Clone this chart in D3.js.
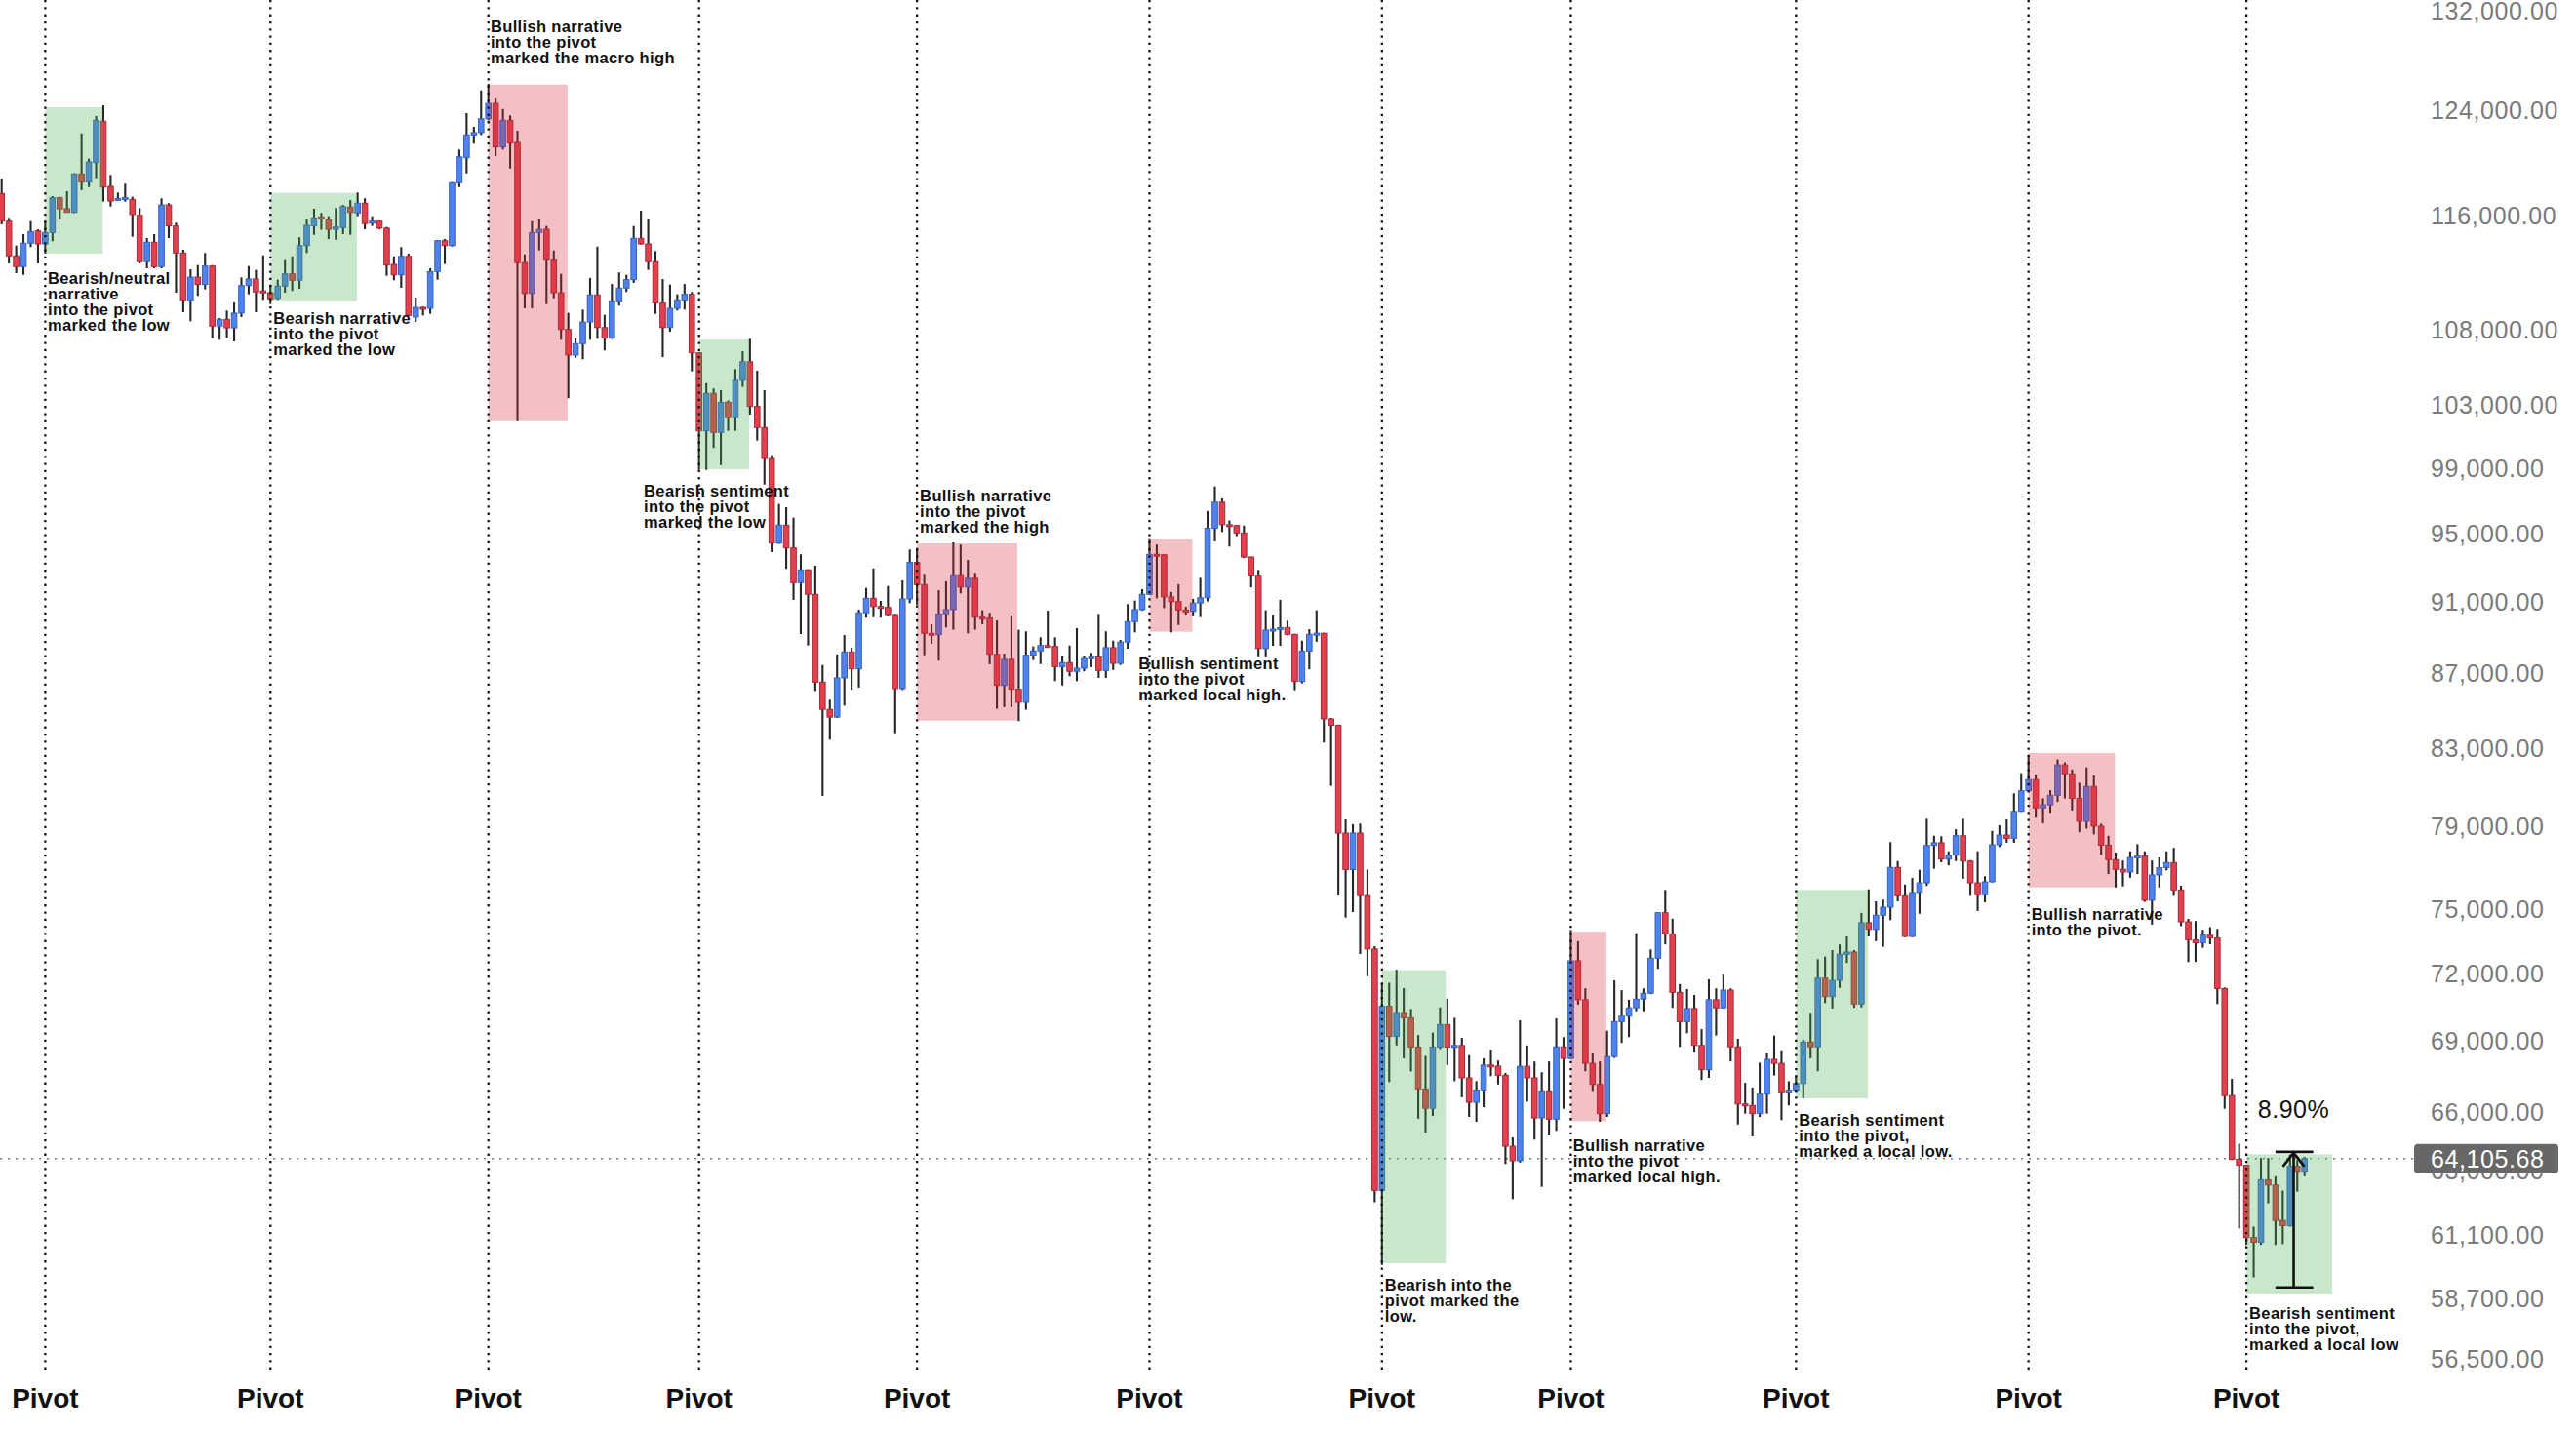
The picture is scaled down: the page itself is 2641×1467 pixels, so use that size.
<!DOCTYPE html>
<html>
<head>
<meta charset="utf-8">
<script src="https://cdn.jsdelivr.net/npm/d3@7"></script>
<style>
  html, body { margin: 0; padding: 0; background: #ffffff; }
  svg { display: block; }
</style>
</head>
<body>
<div id="chart"></div>
<script>
// daily candles, index 0 .. 317 (open / high / low / close)
const opens = [117700,115660,113160,112400,114070,114950,114020,114840,117380,116570,116300,119150,118540,120000,123170,118220,117250,117330,117260,116090,112750,114140,112400,116850,115310,113370,110010,111660,111140,112440,108270,108730,108150,109160,111070,111530,110690,110570,110120,111030,111890,111440,113900,115310,115970,115780,115070,115190,116690,116260,116980,115550,115660,115150,112560,111820,113130,108890,109560,109490,112050,114250,113900,118490,120370,122110,122290,123360,124560,121190,123240,121540,112680,110520,114840,115070,112860,110570,108040,106310,107080,108550,110420,108170,107450,109940,110890,111480,114420,114020,112750,109850,108170,109490,110010,110460,106460,101360,103780,101260,103200,102200,104630,105870,102930,101570,99610,94450,95520,94160,92120,92860,91450,86530,85060,84650,86760,88190,87260,90390,91220,90750,90700,90290,86180,91180,93300,92010,89230,89150,90330,90570,92580,91870,92370,90140,90100,88060,86350,87780,86140,85440,88010,88250,88550,88500,87380,87600,87120,87290,87830,87920,87170,88430,87560,88740,89890,90570,91450,93780,93750,91300,91030,90550,90470,90950,91250,95330,96910,95550,95500,95050,93620,92550,88380,89410,89460,89550,89170,86570,88240,89170,89230,84550,84210,78690,76900,78690,75650,73150,62840,70560,69230,70280,70050,68770,66980,66170,68770,69750,68770,68840,67450,66420,66940,68000,67950,67560,64610,64020,67940,67450,65770,66900,65720,68780,68280,72610,70850,68070,67170,65950,68360,69880,70120,70490,70880,71140,72730,74840,73850,71180,69880,70460,68840,67800,70850,70490,71280,68780,66350,66290,65950,66760,68240,68070,66860,66930,67210,68990,68780,71820,70990,71720,72910,73010,70660,74370,74060,74720,75100,77000,75640,73730,75800,76260,78080,78210,77410,77600,78560,77310,76260,75690,76310,78110,78590,78430,79770,80810,81380,79940,80100,80580,82140,81680,80420,79270,81030,79030,78090,77380,76910,76780,77490,77560,75430,76640,76990,77240,75920,74410,73570,73440,73790,73660,71350,66700,64080,63840,61000,60820,63260,63050,61660,61460,63800,63600];
const highs = [118790,115900,113900,114720,115660,115070,115660,117500,117450,117860,119200,122230,120300,123570,124400,119080,117770,118420,117450,116620,114440,114720,117340,116980,115550,113600,112210,112510,113370,112510,108820,109340,109890,111640,112440,112170,113200,111140,111480,112860,113130,114490,115850,116570,116260,116020,116620,116850,117210,117770,117340,116020,115700,115240,113130,113790,113320,110230,109610,112280,114300,114370,118540,120990,123800,122740,125580,126100,125020,124120,123620,122440,113270,115660,115850,115310,113550,111890,109180,107450,109400,111590,113830,109040,111180,111990,111820,115310,116420,115850,113510,111530,111140,110460,111180,110620,106510,104450,104100,103990,103310,105380,106570,107410,105270,103990,99810,96800,96600,95970,93780,92900,93110,87470,85580,88060,89130,88430,90570,91820,92950,91070,91930,90330,92250,94070,94160,92630,89740,91690,92200,94490,94360,93450,92690,90530,90390,89960,88100,90250,89430,89340,88500,89010,90510,89010,87950,88550,89520,87980,88140,90330,89340,88820,88860,90890,91090,91750,94680,94360,93800,91590,92030,90740,91190,92400,96370,97870,97130,95800,95520,95490,93650,92860,90530,90290,91130,89940,89200,88820,89460,90530,89260,84600,84250,79370,79130,79160,76900,73280,71610,71610,72200,71370,70440,69290,68390,69400,70510,70900,70050,69170,68420,67310,68280,68660,68190,67660,64970,69940,68840,68150,67690,68150,70020,69200,74030,73510,71360,68490,68150,69480,71720,71280,70850,73880,71360,73130,74870,75920,74560,71550,71330,71060,69550,71770,71360,71990,71360,69130,67240,67040,68100,68520,69270,68630,67310,67550,69090,70270,72680,72800,73100,73360,73730,73100,74830,75950,75380,75460,78240,77310,76180,76500,76890,79400,78560,78530,77790,78880,79400,77360,77790,76580,78800,79080,79370,80680,81710,82600,81640,80430,80840,82420,82270,81900,81220,82010,81590,79150,78550,77730,77340,77790,78140,77790,77340,77490,77790,77960,76120,74550,74450,74040,74160,74080,71400,67410,64710,63860,61420,64130,64130,63400,62830,64270,64050,64170];
const lows = [115430,112630,111940,111820,113790,112630,113320,114210,115780,116300,116250,117940,118170,118830,117090,116730,117140,117090,114530,112630,112280,112280,112280,114440,110570,109220,108600,110350,110800,107450,107340,107490,107230,108890,110460,109220,110010,109780,110010,110570,110690,110840,113370,114670,115030,114370,114320,114720,114670,116020,115070,115310,115070,111750,111440,110910,108960,108550,109000,109110,111480,112580,113830,118170,119190,121440,122110,123240,120500,120990,119560,101980,109490,109490,113550,109780,110120,107340,103460,106130,106030,107340,107410,106620,107400,109670,110620,111250,113970,112170,109110,106180,107890,109340,109400,105230,98900,98900,100270,99200,101360,101360,104200,102400,100740,97990,93910,94400,92920,91130,89190,88550,86050,80550,83450,84600,85260,86110,86230,90110,90140,90110,90200,83790,86100,90940,90850,88010,88640,87710,89560,89430,91500,89230,89430,89740,87510,85090,85180,85180,84430,85040,87740,87520,88450,86580,86350,86850,86580,87120,87350,86760,86760,87200,87470,88370,89280,90510,91410,91220,90660,89280,89700,90290,90240,90140,91040,94550,95110,94240,94860,93560,91850,87890,87890,88530,88530,89110,86090,86460,87230,88760,83300,81060,75650,74610,74870,72920,71910,62370,59960,67270,68840,68280,67720,65740,65160,65850,68680,68000,67310,66630,65810,65610,66220,67520,67170,63890,62490,63950,66450,64880,62980,65050,65240,66150,68250,70630,67730,66900,65610,65810,68300,68950,69200,70340,70340,71100,72240,73360,70490,68780,69370,68570,67360,67450,69270,70450,68150,65500,65950,65010,65810,65950,67550,65680,66290,66860,66590,68280,67730,70700,70460,71380,72510,70490,70510,73730,73510,73250,74490,75380,73700,73700,74790,76110,76940,77250,77100,77310,76460,75640,74920,75330,76280,78000,78210,78210,79750,80760,79450,79170,79700,80240,80420,79810,78730,78910,78620,77610,76680,76040,76090,76510,76680,75350,74280,76040,76860,75640,74210,72550,72560,73210,73370,70660,66150,64050,61350,60720,59490,60720,62330,60720,60750,61420,62790,63400];
const closes = [115660,113160,112400,114070,114910,114020,114840,117380,116550,116300,119150,118540,120050,123240,118170,117140,117330,117400,116140,112750,114140,112400,116850,115310,113370,110010,111660,111140,112440,108270,108730,108150,109160,111070,111530,110620,110570,110080,111030,111890,111440,113900,115360,115900,115850,115070,115240,116730,116300,116980,115480,115660,115150,112510,111820,113130,109000,109560,109490,112050,114250,113900,118490,120440,122110,122290,123360,124560,121190,123240,121490,112680,110520,114840,115070,112860,110570,108040,106310,107080,108550,110420,108170,107450,109940,110890,111480,114420,114020,112750,109850,108170,109490,110010,110460,106460,101360,103780,101260,103200,102200,104630,105870,102930,101570,99610,94450,95520,94160,92120,92860,91450,86530,85060,84650,86760,88190,87260,90390,91220,90750,90700,90290,86180,91180,93300,92010,89230,89150,90330,90570,92580,91870,92370,90140,90100,88060,86350,87780,86140,85440,88010,88250,88550,88500,87380,87600,87120,87290,87830,87920,87170,88430,87560,88740,89890,90570,91450,93780,93750,91300,91030,90550,90500,90950,91250,95330,96910,95550,95500,95050,93620,92550,88380,89410,89460,89550,89170,86570,88240,89170,89230,84550,84210,78690,76900,78690,75650,73150,62840,70560,69230,70280,70050,68770,66980,66170,68770,69750,68770,68840,67450,66420,66940,68000,67950,67560,64610,64020,67940,67450,65770,66900,65720,68780,68280,72610,70850,68070,67170,65950,68360,69880,70120,70490,70880,71140,72730,74840,73850,71180,69880,70460,68840,67800,70850,70490,71280,68780,66350,66290,65950,66760,68240,68070,66860,66930,67210,68990,68780,71820,70990,71720,72910,73010,70660,74370,74060,74720,75100,77000,75640,73730,75800,76260,78080,78210,77410,77600,78560,77310,76260,75690,76310,78110,78590,78430,79770,80810,81380,79940,80100,80580,82140,81680,80420,79270,81030,79030,78090,77380,76910,76780,77490,77560,75430,76640,76990,77240,75920,74410,73570,73440,73790,73660,71350,66700,64080,63840,61000,60820,63260,63050,61660,61460,63800,63600,64105.68];

// price axis labels
const tickValues = [132000,124000,116000,108000,103000,99000,95000,91000,87000,83000,79000,75000,72000,69000,66000,63000,61100,58700,56500];
const lastPrice = 64105.68;

// pivot candles (dotted verticals + "Pivot" labels)
const pivots = [6, 37, 67, 96, 126, 158, 190, 216, 247, 279, 309];

// shaded zones: candle index range and price range
const zoneStart = [6, 37, 67, 96, 126, 158, 190, 216, 247, 279, 309];
const zoneEnd   = [13.9, 48.9, 77.9, 102.9, 139.8, 163.9, 198.8, 220.9, 256.9, 290.9, 320.8];
const zoneHigh  = [124250, 117740, 126040, 107360, 94430, 94660, 72180, 73950, 75920, 82750, 64280];
const zoneLow   = [113320, 109960, 101980, 98940, 84460, 89320, 60020, 65640, 66590, 76040, 58860];
const zoneKind  = ["bull","bull","bear","bull","bear","bear","bull","bear","bull","bear","bull"];

// notes: left edge (candle index), price of first line
const noteIndex = [6.35, 37.4, 67.3, 88.4, 126.4, 156.5, 190.4, 216.3, 247.4, 279.4, 309.4];
const notePrice = [111590, 108840, 130750, 97600, 97300, 87560, 59220, 64650, 65700, 74800, 58170];
const noteLines = [
  ["Bearish/neutral", "narrative", "into the pivot", "marked the low"],
  ["Bearish narrative", "into the pivot", "marked the low"],
  ["Bullish narrative", "into the pivot", "marked the macro high"],
  ["Bearish sentiment", "into the pivot", "marked the low"],
  ["Bullish narrative", "into the pivot", "marked the high"],
  ["Bullish sentiment", "into the pivot", "marked local high."],
  ["Bearish into the", "pivot marked the", "low."],
  ["Bullish narrative", "into the pivot", "marked local high."],
  ["Bearish sentiment", "into the pivot,", "marked a local low."],
  ["Bullish narrative", "into the pivot."],
  ["Bearish sentiment", "into the pivot,", "marked a local low"]
];

// price range measurement at the right
const measureLow = 59120, measureHigh = 64380;
const measureFrom = 313, measureTo = 318.2, measureAt = 315.5;
const measureText = "8.90%";

const width = 2641, height = 1467;

const data = closes.map((c, i) => ({i: i, o: opens[i], h: highs[i], l: lows[i], c: c}));

const svg = d3.select("#chart")
  .append("svg")
    .attr("width", width)
    .attr("height", height);

// scales
const x = d3.scaleLinear()
  .domain([0, 317])
  .range([1.7, 2362.7]);
const y = d3.scaleLog()
  .domain([56500, 132000])
  .range([1393.5, 11.5]);

// last price dotted line (behind candles)
svg.append("line")
  .attr("x1", 0)
  .attr("x2", 2475)
  .attr("y1", y(lastPrice))
  .attr("y2", y(lastPrice))
  .attr("stroke", "#7d7d7d")
  .attr("stroke-width", 1.6)
  .attr("stroke-dasharray", "2,6");

// candles
const candle = svg.append("g")
  .selectAll("g")
  .data(data)
  .join("g");

candle.append("line")
  .attr("x1", d => x(d.i))
  .attr("x2", d => x(d.i))
  .attr("y1", d => y(d.h))
  .attr("y2", d => y(d.l))
  .attr("stroke", "#262626")
  .attr("stroke-width", 2.1);

candle.append("rect")
  .attr("x", d => x(d.i) - 2.8)
  .attr("width", 5.6)
  .attr("y", d => y(Math.max(d.o, d.c)))
  .attr("height", d => Math.max(2, y(Math.min(d.o, d.c)) - y(Math.max(d.o, d.c))))
  .attr("fill", d => d.c >= d.o ? "#4f82ea" : "#e0414d")
  .attr("stroke", d => d.c >= d.o ? "#3561c4" : "#a8283a")
  .attr("stroke-width", 1);

// shaded zones on top of candles
svg.append("g")
  .selectAll("rect")
  .data(zoneStart)
  .join("rect")
    .attr("x", (d, k) => x(d))
    .attr("width", (d, k) => x(zoneEnd[k]) - x(d))
    .attr("y", (d, k) => y(zoneHigh[k]))
    .attr("height", (d, k) => y(zoneLow[k]) - y(zoneHigh[k]))
    .attr("fill", (d, k) => zoneKind[k] === "bull" ? "rgb(76,175,80)" : "rgb(214,45,58)")
    .attr("fill-opacity", 0.3);

// pivot verticals
svg.append("g")
  .selectAll("line")
  .data(pivots)
  .join("line")
    .attr("x1", d => x(d))
    .attr("x2", d => x(d))
    .attr("y1", 0)
    .attr("y2", 1404)
    .attr("stroke", "#111")
    .attr("stroke-width", 2.3)
    .attr("stroke-dasharray", "2.3,5");

svg.append("g")
  .selectAll("text")
  .data(pivots)
  .join("text")
    .attr("x", d => x(d))
    .attr("y", 1443)
    .attr("text-anchor", "middle")
    .style("font-family", "'Liberation Sans', Arial, sans-serif")
    .style("font-weight", "bold")
    .style("font-size", "28px")
    .style("fill", "#111")
    .text("Pivot");

// notes
const notes = svg.append("g")
  .selectAll("text")
  .data(noteIndex)
  .join("text")
    .attr("x", d => x(d))
    .attr("y", (d, k) => y(notePrice[k]))
    .attr("dominant-baseline", "central")
    .style("font-family", "'Liberation Sans', Arial, sans-serif")
    .style("font-weight", "bold")
    .style("font-size", "16.5px")
    .style("letter-spacing", "0.35px")
    .style("fill", "#111");

notes.selectAll("tspan")
  .data((d, k) => noteLines[k].map((t, j) => ({t: t, j: j, x: x(d), y: y(notePrice[k])})))
  .join("tspan")
    .attr("x", d => d.x)
    .attr("y", d => d.y + d.j * 16)
    .text(d => d.t);

// measurement tool
const m = svg.append("g")
  .attr("stroke", "#111")
  .attr("stroke-width", 2.6)
  .attr("fill", "none");
m.append("line")
  .attr("x1", x(measureAt)).attr("x2", x(measureAt))
  .attr("y1", y(measureHigh)).attr("y2", y(measureLow));
m.append("line")
  .attr("x1", x(measureFrom)).attr("x2", x(measureTo))
  .attr("y1", y(measureHigh)).attr("y2", y(measureHigh));
m.append("line")
  .attr("x1", x(measureFrom)).attr("x2", x(measureTo))
  .attr("y1", y(measureLow)).attr("y2", y(measureLow));
m.append("path")
  .attr("d", `M${x(measureAt) - 11},${y(measureHigh) + 15} L${x(measureAt)},${y(measureHigh) + 1} L${x(measureAt) + 11},${y(measureHigh) + 15}`);

svg.append("text")
  .attr("x", x(measureAt))
  .attr("y", y(measureHigh) - 35)
  .attr("text-anchor", "middle")
  .style("font-family", "'Liberation Sans', Arial, sans-serif")
  .style("font-size", "25px")
  .style("letter-spacing", "0.5px")
  .style("fill", "#111")
  .text(measureText);

// right price axis
const yAxis = svg.append("g")
  .attr("transform", "translate(2492,0)")
  .call(d3.axisRight(y).tickValues(tickValues).tickFormat(d3.format(",.2f")).tickSize(0).tickPadding(0))
  .call(g => g.select(".domain").remove());

yAxis.selectAll("text")
  .style("font-family", "'Liberation Sans', Arial, sans-serif")
  .style("font-size", "25px")
  .style("letter-spacing", "0.6px")
  .style("fill", "#7a7a7a");

// the label that sits under the last-price tag is pushed up behind it
yAxis.selectAll(".tick")
  .filter(d => d === 63000)
  .select("text")
    .attr("y", -16);

// last price tag
svg.append("rect")
  .attr("x", 2475)
  .attr("y", y(lastPrice) - 15)
  .attr("width", 148)
  .attr("height", 30)
  .attr("rx", 4)
  .attr("fill", "#676767");
svg.append("text")
  .attr("x", 2492)
  .attr("y", y(lastPrice))
  .attr("dy", "0.35em")
  .style("font-family", "'Liberation Sans', Arial, sans-serif")
  .style("font-size", "25px")
  .style("letter-spacing", "0.6px")
  .style("fill", "#ffffff")
  .text(d3.format(",.2f")(lastPrice));
</script>
</body>
</html>
